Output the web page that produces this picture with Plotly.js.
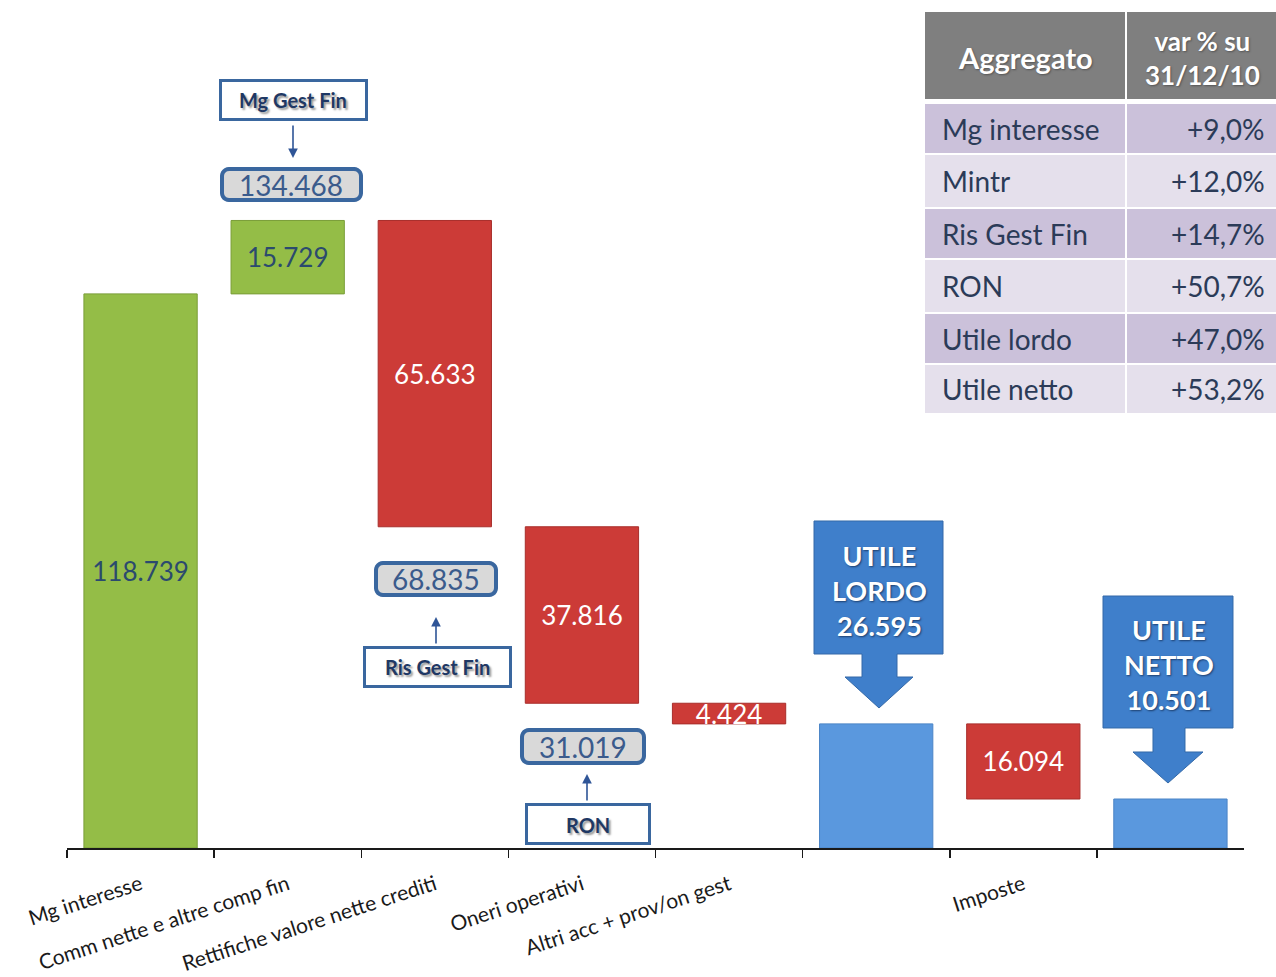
<!DOCTYPE html>
<html>
<head>
<meta charset="utf-8">
<script src="https://cdn.plot.ly/plotly-3.0.1.min.js"></script>
<style>html,body{margin:0;padding:0;background:#fff;}#chart{width:1276px;height:977px;}</style>
</head>
<body>
<div id="chart"></div>
<script>
// ---- data ----
const categories = ['Mg interesse','Comm nette e altre comp fin','Rettifiche valore nette crediti','Oneri operativi','Altri acc + prov/on gest','UTILE LORDO','Imposte','UTILE NETTO'];
const tickLabels = ['Mg interesse','Comm nette e altre comp fin','Rettifiche valore nette crediti','Oneri operativi','Altri acc + prov/on gest','','Imposte',''];
const values = [118.739, 15.729, -65.633, -37.816, -4.424, 0, -16.094, 0];
const measures = ['relative','relative','relative','relative','relative','total','relative','total'];
const tableHeader = ['<b>Aggregato</b>', '<b>var % su</b><br><b>31/12/10</b>'];
const tableAggregati = ['Mg interesse','Mintr','Ris Gest Fin','RON','Utile lordo','Utile netto'];
const tableVariazioni = ['+9,0%','+12,0%','+14,7%','+50,7%','+47,0%','+53,2%'];

// cumulative running totals
const cumul = [];
let run = 0;
values.forEach((v, i) => { if (measures[i] === 'total') { cumul.push(run); } else { run += v; cumul.push(run); } });
const fmt = v => Math.abs(v).toFixed(3);

const barText = values.map((v, i) => measures[i] === 'total' ? '' : fmt(v));
const textColors = values.map(v => v > 0 ? '#2B4A6E' : '#FFFFFF');

// ---- layout helpers (pixel -> paper) ----
const W = 1276, H = 977, ML = 67, MR = 0, MT = 8, MB = 129;
const PW = W - ML - MR, PH = H - MT - MB;
const PX = x => (x - ML) / PW;
const PY = y => (H - MB - y) / PH;

const FONT = 'Lato, Carlito, Calibri, "Open Sans", sans-serif';
const navy = '#3A679F';

const trace = {
  type: 'waterfall',
  x: categories.map((c, i) => i),
  y: values,
  measure: measures,
  text: barText,
  textinfo: 'text',
  textposition: 'inside',
  insidetextanchor: 'middle',
  constraintext: 'none',
  textfont: {family: FONT, size: 26, color: textColors},
  increasing: {marker: {color: '#94BD47', line: {color: '#7A9E38', width: 1}}},
  decreasing: {marker: {color: '#CC3B37', line: {color: '#A82E2B', width: 1}}},
  totals: {marker: {color: '#5A98DE', line: {color: '#4A84C6', width: 1}}},
  connector: {visible: false},
  hoverinfo: 'skip',
  cliponaxis: false,
  showlegend: false
};

const shapes = [];
const annotations = [];
function rectShape(l, t, r, b, fill, lineColor, lw) {
  shapes.push({type: 'rect', xref: 'paper', yref: 'paper', x0: PX(l), x1: PX(r), y0: PY(b), y1: PY(t),
    fillcolor: fill, line: {color: lineColor || fill, width: lw || 0}, layer: 'above'});
}
function pathFromPts(pts) {
  return 'M ' + pts.map(p => PX(p[0]).toFixed(5) + ',' + PY(p[1]).toFixed(5)).join(' L ') + ' Z';
}
function roundRect(l, t, r, b, rad, fill, lineColor, lw) {
  const pts = [];
  const corners = [[r - rad, t + rad, -90], [r - rad, b - rad, 0], [l + rad, b - rad, 90], [l + rad, t + rad, 180]];
  corners.forEach(c => { for (let k = 0; k <= 6; k++) { const a = (c[2] + k * 15) * Math.PI / 180; pts.push([c[0] + rad * Math.cos(a), c[1] + rad * Math.sin(a)]); } });
  shapes.push({type: 'path', xref: 'paper', yref: 'paper', path: pathFromPts(pts), fillcolor: fill, line: {color: lineColor, width: lw}, layer: 'above'});
}
function textAnn(text, cx, cy, font, xanchor) {
  annotations.push({xref: 'paper', yref: 'paper', x: PX(cx), y: PY(cy), xanchor: xanchor || 'center', yanchor: 'middle',
    text: text, showarrow: false, align: xanchor === 'right' ? 'right' : (xanchor === 'left' ? 'left' : 'center'),
    font: Object.assign({family: FONT}, font)});
}
function arrowAnn(x, y1, y2) { // from y1 (tail) to y2 (head)
  annotations.push({xref: 'paper', yref: 'paper', x: PX(x), y: PY(y2), ax: 0, ay: y1 - y2, axref: 'pixel', ayref: 'pixel',
    text: '', showarrow: true, arrowhead: 2, arrowsize: 1.2, arrowwidth: 1.6, arrowcolor: '#2F5597', standoff: 0});
}

// ---- table (top right) ----
const colL = [925, 1127], colR = [1125, 1278];
const headerT = 12, headerB = 99;
const rowEdges = [104, 154, 208, 259, 313, 364, 414];
rectShape(colL[0], headerT, colR[0], headerB, '#7F7F7F');
rectShape(colL[1], headerT, colR[1], headerB, '#7F7F7F');
textAnn(tableHeader[0], 1025, 57, {size: 29, color: '#FFFFFF', shadow: '1px 1px 2px #555'});
textAnn(tableHeader[1], 1202, 58, {size: 26, color: '#FFFFFF', shadow: '1px 1px 2px #555'});
tableAggregati.forEach((a, i) => {
  const t = rowEdges[i] + (i === 0 ? 0 : 1), b = rowEdges[i + 1] - 1;
  const fill = i % 2 === 0 ? '#CBC1DA' : '#E5E0EC';
  rectShape(colL[0], t, colR[0], b, fill);
  rectShape(colL[1], t, colR[1], b, fill);
  const cy = (rowEdges[i] + rowEdges[i + 1]) / 2;
  textAnn(a, 940, cy, {size: 28, color: '#2B3B58'}, 'left');
  textAnn(tableVariazioni[i], 1267, cy, {size: 28, color: '#2B3B58'}, 'right');
});

// ---- subtotal boxes, labels and arrows ----
const labelFont = {size: 20, color: '#1F3864', weight: 'bold', shadow: '2px 2px 2px #9a9a9a'};
const valFont = {size: 28, color: '#3B5B8C'};

rectShape(220.5, 80.5, 366.5, 119.5, '#FFFFFF', navy, 3);
textAnn('Mg Gest Fin', 293, 100, labelFont);
arrowAnn(293, 124, 158);
roundRect(222, 169, 361, 200, 7, '#D9D9D9', navy, 4);
textAnn(fmt(cumul[1]), 291, 185, valFont);

roundRect(376, 563, 496, 595, 7, '#D9D9D9', navy, 4);
textAnn(fmt(cumul[2]), 436, 579, valFont);
arrowAnn(436, 645, 617);
rectShape(364.5, 647.5, 510.5, 686.5, '#FFFFFF', navy, 3);
textAnn('Ris Gest Fin', 437, 667, labelFont);

roundRect(522, 730, 644, 763, 7, '#D9D9D9', navy, 4);
textAnn(fmt(cumul[3]), 582.5, 747, valFont);
arrowAnn(587, 802, 774);
rectShape(526.5, 804.5, 649.5, 843.5, '#FFFFFF', navy, 3);
textAnn('RON', 587.5, 825, labelFont);

// ---- blue callouts ----
function calloutPath(l, r, t, b, sl, sr, hb, hl, hr, tipX, tipY) {
  return pathFromPts([[l,t],[r,t],[r,b],[sr,b],[sr,hb],[hr,hb],[tipX,tipY],[hl,hb],[sl,hb],[sl,b],[l,b]]);
}
shapes.push({type: 'path', xref: 'paper', yref: 'paper', path: calloutPath(814, 943, 521, 654, 862, 897, 677, 845, 913, 879, 708),
  fillcolor: '#3F7FCB', line: {color: '#3469A8', width: 1}});
shapes.push({type: 'path', xref: 'paper', yref: 'paper', path: calloutPath(1103, 1233, 596, 728, 1153, 1185, 752, 1133, 1203, 1168, 783),
  fillcolor: '#3F7FCB', line: {color: '#3469A8', width: 1}});
const calloutFont = {size: 27, color: '#FFFFFF', weight: 'bold', shadow: '1px 1px 2px #1d3f6e'};
textAnn('UTILE<br>LORDO<br>' + fmt(cumul[5]), 879, 590, calloutFont);
textAnn('UTILE<br>NETTO<br>' + fmt(cumul[7]), 1169, 664, calloutFont);

const layout = {
  width: W, height: H,
  margin: {l: ML, r: MR, t: MT, b: MB, pad: 0},
  paper_bgcolor: '#FFFFFF', plot_bgcolor: '#FFFFFF',
  waterfallgap: 0.23,
  font: {family: FONT},
  xaxis: {
    domain: [0, 1177 / PW],
    range: [-0.5, 7.5],
    tickmode: 'array', tickvals: categories.map((c, i) => i), ticktext: tickLabels,
    ticks: '', tickangle: -18, ticklabelstandoff: 15,
    tickfont: {family: FONT, size: 21, color: '#1A1A1A'},
    showline: true, linecolor: '#1A1A1A', linewidth: 1.5,
    showgrid: false, zeroline: false,
    minor: {tickmode: 'array', tickvals: categories.map((c, i) => i - 0.5), ticks: 'outside', ticklen: 8, tickwidth: 1.5, tickcolor: '#1A1A1A', showgrid: false},
    fixedrange: true
  },
  yaxis: {range: [0, 180], visible: false, showgrid: false, zeroline: false, fixedrange: true},
  annotations: annotations,
  shapes: shapes
};

Plotly.newPlot('chart', [trace], layout, {displayModeBar: false, staticPlot: true});
</script>
</body>
</html>
